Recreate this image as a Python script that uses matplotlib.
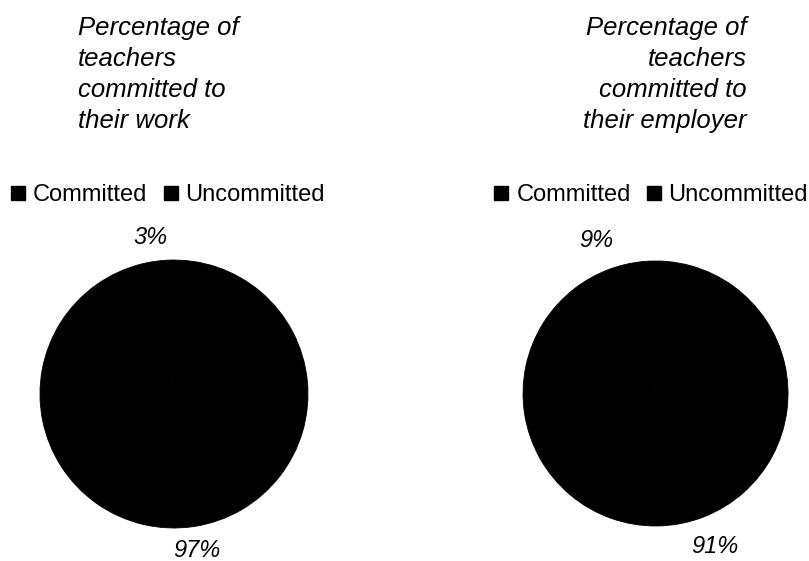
import matplotlib.pyplot as plt
from matplotlib.lines import Line2D

plt.rcParams['font.family'] = ['Liberation Sans', 'DejaVu Sans']

# shares of teachers
categories = ['Committed', 'Uncommitted']
work_values = [3, 97]
employer_values = [9, 91]
work_labels = ['3%', '97%']
employer_labels = ['9%', '91%']

work_title = 'Percentage of\nteachers\ncommitted to\ntheir work'
employer_title = 'Percentage of\nteachers\ncommitted to\ntheir employer'

slice_colors = ['black', 'black']

fig = plt.figure(figsize=(8.09, 5.61), dpi=100)
fig.patch.set_facecolor('white')

ax1 = fig.add_axes([0.0494, 0.0588, 0.3313, 0.4777])
ax2 = fig.add_axes([0.6465, 0.0624, 0.3276, 0.4724])


def draw_pie(ax, values, labels, start, dist):
    wedges, texts = ax.pie(values, labels=labels, colors=slice_colors,
                           startangle=start, counterclock=True,
                           labeldistance=dist,
                           wedgeprops=dict(linewidth=0.6, edgecolor='black'),
                           textprops=dict(fontsize=17, style='italic'))
    for t in texts:
        t.set_ha('center')
        t.set_va('center')
    ax.set_xlim(-1, 1)
    ax.set_ylim(-1, 1)
    ax.axis('off')


draw_pie(ax1, work_values, work_labels, 93, 1.18)
draw_pie(ax2, employer_values, employer_labels, 95, 1.24)

# titles
fig.text(78 / 809, 1 - 16 / 561, work_title, ha='left', va='top',
         fontsize=18.5, style='italic', linespacing=1.36)
fig.text(747 / 809, 1 - 16 / 561, employer_title, ha='right', va='top',
         multialignment='right', fontsize=18.5, style='italic', linespacing=1.36)

# legends
handles = [Line2D([], [], marker='s', linestyle='none', color='black',
                  markersize=9.5) for _ in categories]
leg_kw = dict(ncol=2, frameon=False, fontsize=17, loc='center left',
              handlelength=0.55, handletextpad=0.35, columnspacing=0.7,
              borderpad=0, borderaxespad=0)
fig.legend(handles, categories, bbox_to_anchor=(12 / 809, 1 - 195 / 561), **leg_kw)
fig.legend(handles, categories, bbox_to_anchor=(495 / 809, 1 - 195 / 561), **leg_kw)

fig.savefig('out.png', dpi=100)
